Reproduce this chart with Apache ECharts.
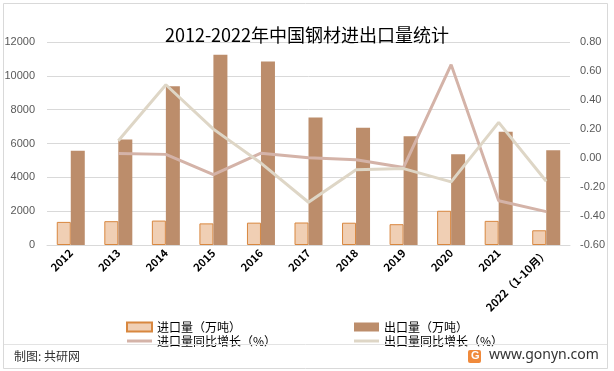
<!DOCTYPE html>
<html><head><meta charset="utf-8">
<script src="https://cdn.jsdelivr.net/npm/echarts@6/dist/echarts.min.js"></script>
<style>html,body{margin:0;padding:0;background:#fff}#c{width:614px;height:371px}</style>
</head><body><div id="c"></div>
<script>
const categories = ['2012','2013','2014','2015','2016','2017','2018','2019','2020','2021','2022（1-10月）'];
const importVol = [1366, 1408, 1443, 1278, 1321, 1330, 1317, 1230, 2023, 1427, 870];
const exportVol = [5573, 6234, 9378, 11240, 10843, 7541, 6934, 6429, 5367, 6690, 5600];
const importYoY = [null, 0.031, 0.025, -0.114, 0.033, 0.002, -0.012, -0.065, 0.644, -0.295, -0.37];
const exportYoY = [null, 0.119, 0.505, 0.199, -0.035, -0.305, -0.081, -0.073, -0.165, 0.246, -0.16];
const leftTicks = {min: 0, max: 12000, interval: 2000};
const rightTicks = {min: -0.6, max: 0.8, interval: 0.2};

const CJK = '"Microsoft YaHei","Noto Sans CJK SC",sans-serif';
const lineIcon = 'path://M0,0L25,0L25,3L0,3Z';
const chart = echarts.init(document.getElementById('c'), null, {renderer: 'canvas'});
chart.setOption({
  animation: false,
  backgroundColor: '#fff',
  title: {
    text: '2012-2022年中国钢材进出口量统计',
    left: 'center', top: 21,
    textStyle: {fontFamily: CJK, fontSize: 18, fontWeight: 'normal', color: '#000'}
  },
  grid: {left: 47, right: 44, top: 42, bottom: 126},
  legend: [
    {
      left: 121, top: 315, orient: 'vertical', itemGap: 0,
      itemWidth: 25, itemHeight: 9,
      textStyle: {fontFamily: CJK, fontSize: 12, color: '#000', lineHeight: 14},
      data: [{name: '进口量（万吨）', icon: 'rect'}, {name: '进口量同比增长（%）', icon: lineIcon}]
    },
    {
      left: 349, top: 315, orient: 'vertical', itemGap: 0,
      itemWidth: 25, itemHeight: 9,
      textStyle: {fontFamily: CJK, fontSize: 12, color: '#000', lineHeight: 14},
      data: [{name: '出口量（万吨）', icon: 'rect'}, {name: '出口量同比增长（%）', icon: lineIcon}]
    }
  ],
  xAxis: {
    type: 'category', data: categories, boundaryGap: true,
    axisLine: {lineStyle: {color: '#d9d9d9'}},
    axisTick: {show: false},
    axisLabel: {rotate: 45, interval: 0, margin: 6, fontSize: 11, fontWeight: 'bold', color: '#000', fontFamily: CJK}
  },
  yAxis: [
    {
      type: 'value', min: leftTicks.min, max: leftTicks.max, interval: leftTicks.interval,
      axisLine: {show: false}, axisTick: {show: false},
      splitLine: {lineStyle: {color: '#d9d9d9'}},
      axisLabel: {margin: 12, fontSize: 11, color: '#595959', fontFamily: 'Liberation Sans, sans-serif',
        formatter: v => String(v)}
    },
    {
      type: 'value', min: rightTicks.min, max: rightTicks.max, interval: rightTicks.interval,
      axisLine: {show: false}, axisTick: {show: false}, splitLine: {show: false},
      axisLabel: {margin: 10, fontSize: 11, color: '#595959', fontFamily: 'Liberation Sans, sans-serif',
        formatter: v => v.toFixed(2)}
    }
  ],
  series: [
    {
      name: '进口量（万吨）', type: 'bar', data: importVol, barWidth: 14, barGap: '0%',
      itemStyle: {color: '#F0CFB4', borderColor: '#D8873F', borderWidth: 1}
    },
    {
      name: '出口量（万吨）', type: 'bar', data: exportVol, barWidth: 14, barGap: '0%',
      itemStyle: {color: '#BC8D6B'}
    },
    {
      name: '进口量同比增长（%）', type: 'line', yAxisIndex: 1, data: importYoY,
      symbol: 'none', lineStyle: {color: '#D4B3A8', width: 3}, itemStyle: {color: '#D4B3A8'}
    },
    {
      name: '出口量同比增长（%）', type: 'line', yAxisIndex: 1, data: exportYoY,
      symbol: 'none', lineStyle: {color: '#DED6C6', width: 3}, itemStyle: {color: '#DED6C6'}
    }
  ],
  graphic: [
    {type: 'rect', shape: {x: 3.5, y: 3.5, width: 604, height: 365}, style: {fill: 'none', stroke: '#d9d9d9', lineWidth: 1}, z: 100},
    {type: 'line', shape: {x1: 4, y1: 344.5, x2: 607, y2: 344.5}, style: {stroke: '#e3e3e3', lineWidth: 1}, z: 100},
    {type: 'text', left: 14, top: 350, style: {text: '制图: 共研网', font: '12px ' + CJK, fill: '#333'}, z: 100},
    {type: 'rect', shape: {x: 468, y: 350, width: 13, height: 13, r: 2}, style: {fill: '#F08A3C'}, z: 100},
    {type: 'text', left: 471, top: 350, style: {text: 'G', font: 'bold 11px Liberation Sans, sans-serif', fill: '#fff'}, z: 101},
    {type: 'text', left: 489, top: 348, style: {text: 'www.gonyn.com', font: '14px "Noto Sans", sans-serif', fill: '#333'}, z: 100}
  ]
});
</script></body></html>
